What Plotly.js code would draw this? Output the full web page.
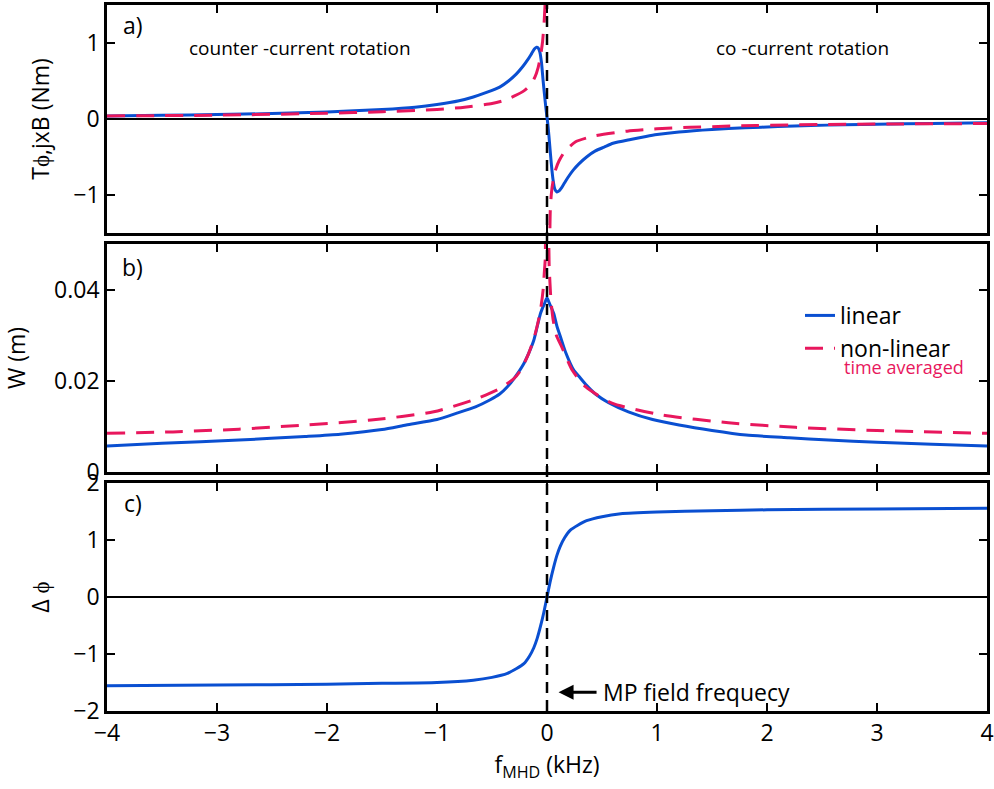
<!DOCTYPE html>
<html>
<head>
<meta charset="utf-8">
<script src="https://cdn.plot.ly/plotly-3.0.1.min.js"></script>
<style>html,body{margin:0;padding:0;background:#fff;}#plot{width:994px;height:789px;}</style>
</head>
<body>
<div id="plot"></div>
<script>
// ---- data ----
// panel a) torque, linear model
const xTorqueLin = [-4,-3.5,-3,-2.5,-2,-1.5,-1.2,-1,-0.8,-0.67,-0.55,-0.43,-0.35,-0.28,-0.22,-0.17,-0.14,-0.115,-0.095,-0.08,-0.065,-0.05,-0.035,-0.02,-0.005,0.01,0.025,0.04,0.055,0.07,0.09,0.11,0.135,0.16,0.19,0.24,0.29,0.36,0.44,0.52,0.6,0.76,0.9,1.0,1.2,1.5,1.8,2.1,2.4,2.7,3.0,3.5,4];
const yTorqueLin = [0.04,0.048,0.058,0.072,0.092,0.125,0.155,0.19,0.24,0.29,0.35,0.42,0.50,0.59,0.69,0.79,0.86,0.92,0.945,0.935,0.88,0.74,0.50,0.28,0.08,-0.10,-0.35,-0.60,-0.80,-0.92,-0.96,-0.945,-0.90,-0.84,-0.77,-0.67,-0.59,-0.50,-0.42,-0.37,-0.32,-0.27,-0.23,-0.205,-0.17,-0.137,-0.116,-0.10,-0.086,-0.076,-0.068,-0.058,-0.05];
// panel a) torque, non-linear (time averaged); null separates the two diverging branches
const xTorqueNon = [-4,-3,-2,-1.5,-1,-0.75,-0.5,-0.4,-0.3,-0.21,-0.15,-0.11,-0.08,-0.06,-0.04,-0.025,-0.015,-0.005,null,0.02,0.025,0.03,0.04,0.055,0.08,0.11,0.16,0.26,0.44,0.73,1.0,1.3,1.9,2.5,3.1,4];
const yTorqueNon = [0.04,0.05,0.075,0.095,0.125,0.155,0.205,0.24,0.30,0.37,0.45,0.55,0.68,0.82,1.02,1.3,1.6,2.2,null,-2.2,-1.6,-1.2,-0.98,-0.82,-0.66,-0.55,-0.43,-0.30,-0.22,-0.16,-0.13,-0.11,-0.085,-0.072,-0.066,-0.06];
// panel b) island width W (m)
const xWidthLin = [-4,-3.5,-2.8,-2.2,-1.88,-1.5,-1.28,-1.0,-0.82,-0.65,-0.52,-0.43,-0.36,-0.3,-0.21,-0.16,-0.12,-0.09,-0.06,-0.04,-0.02,0,0.02,0.04,0.062,0.09,0.123,0.17,0.244,0.29,0.36,0.44,0.56,0.74,0.96,1.2,1.5,1.81,2.2,2.56,3.0,3.5,4];
const yWidthLin = [0.0057,0.0063,0.0070,0.0078,0.0083,0.0093,0.0103,0.0115,0.0129,0.0143,0.0158,0.0171,0.0187,0.0205,0.0238,0.0264,0.0289,0.0318,0.0347,0.0360,0.0371,0.0382,0.0371,0.0360,0.0347,0.0320,0.0296,0.0262,0.0223,0.0210,0.0190,0.0171,0.0152,0.0132,0.0115,0.0103,0.0091,0.0081,0.0075,0.0070,0.0065,0.0061,0.0057];
const xWidthNon = [-4,-3.4,-2.8,-2.2,-1.6,-1.03,-0.67,-0.43,-0.3,-0.24,-0.17,-0.115,-0.08,-0.055,-0.035,-0.025,-0.015,-0.008,0.008,0.02,0.035,0.055,0.085,0.135,0.23,0.35,0.59,1.05,1.65,2.26,3.0,4];
const yWidthNon = [0.0085,0.0088,0.0094,0.0103,0.0114,0.0132,0.0158,0.0183,0.0205,0.0223,0.0258,0.0296,0.0330,0.0362,0.0400,0.0435,0.047,0.052,0.052,0.045,0.038,0.0335,0.0300,0.0274,0.0223,0.0187,0.0151,0.0125,0.0108,0.0098,0.0091,0.0085];
// panel c) phase difference
const xPhase = [-4,-3,-2,-1.5,-1,-0.67,-0.5,-0.36,-0.28,-0.21,-0.16,-0.12,-0.09,-0.06,-0.03,0,0.03,0.06,0.09,0.12,0.16,0.21,0.28,0.36,0.5,0.67,1,1.5,2,3,4];
const yPhase = [-1.556,-1.545,-1.53,-1.515,-1.50,-1.46,-1.41,-1.34,-1.26,-1.17,-1.04,-0.89,-0.73,-0.52,-0.28,0,0.28,0.52,0.73,0.89,1.04,1.17,1.26,1.34,1.41,1.46,1.49,1.515,1.53,1.545,1.556];

const xTicks = [-4,-3,-2,-1,0,1,2,3,4];
const torqueTicks = [-1,0,1];
const widthTicks = [0,0.02,0.04];
const widthTickText = ['0','0.02','0.04'];
const phaseTicks = [-2,-1,0,1,2];
const seriesNames = ['linear','non-linear'];

// ---- styling ----
const F = 'Open Sans';
const BLUE = '#0a4fd1';
const RED = '#e8175d';
const blueLine = {color: BLUE, width: 3, shape: 'spline', smoothing: 0.6};
const redLine = {color: RED, width: 3, dash: '18px,11px', shape: 'spline', smoothing: 0.6};

const traces = [
  {x: xTorqueLin, y: yTorqueLin, xaxis: 'x3', yaxis: 'y3', mode: 'lines', line: blueLine, showlegend: false, hoverinfo: 'skip'},
  {x: xTorqueNon, y: yTorqueNon, xaxis: 'x3', yaxis: 'y3', mode: 'lines', line: redLine, showlegend: false, connectgaps: false, hoverinfo: 'skip'},
  {x: xWidthLin, y: yWidthLin, xaxis: 'x2', yaxis: 'y2', mode: 'lines', line: blueLine, name: seriesNames[0], showlegend: true},
  {x: xWidthNon, y: yWidthNon, xaxis: 'x2', yaxis: 'y2', mode: 'lines', line: redLine, name: seriesNames[1], showlegend: true},
  {x: xPhase, y: yPhase, xaxis: 'x', yaxis: 'y', mode: 'lines', line: blueLine, showlegend: false}
];

const common = {
  showline: true, linecolor: 'black', linewidth: 2.8, mirror: 'ticks',
  ticks: 'inside', ticklen: 8, tickwidth: 2, tickcolor: 'black',
  showgrid: false, tickfont: {family: F, size: 23, color: 'black'}
};
const titleFont = {family: F, size: 23, color: 'black'};

const layout = {
  width: 994, height: 789,
  margin: {l: 107, r: 7, t: 5, b: 78},
  paper_bgcolor: 'white', plot_bgcolor: 'white',
  font: {family: F, color: 'black'},
  showlegend: true,
  legend: {x: 0.7875, y: 0.5907, xanchor: 'left', yanchor: 'top', bgcolor: 'rgba(0,0,0,0)',
           font: {family: F, size: 23, color: 'black'}},
  xaxis: Object.assign({}, common, {range: [-4, 4], tickvals: xTicks, anchor: 'y', zeroline: false,
          title: {text: 'f<sub>MHD</sub> (kHz)', font: titleFont, standoff: 6}}),
  xaxis2: Object.assign({}, common, {range: [-4, 4], tickvals: xTicks, matches: 'x', anchor: 'y2', zeroline: false, showticklabels: false}),
  xaxis3: Object.assign({}, common, {range: [-4, 4], tickvals: xTicks, matches: 'x', anchor: 'y3', zeroline: false, showticklabels: false}),
  yaxis: Object.assign({}, common, {domain: [0, 0.3229], range: [-2, 2], tickvals: phaseTicks, anchor: 'x',
          zeroline: true, zerolinecolor: 'black', zerolinewidth: 2,
          title: {text: 'Δ ϕ', font: titleFont}}),
  yaxis2: Object.assign({}, common, {domain: [0.3385, 0.6615], range: [0, 0.05], tickvals: widthTicks, ticktext: widthTickText, anchor: 'x2',
          zeroline: false, title: {text: 'W (m)', font: titleFont, standoff: 24}}),
  yaxis3: Object.assign({}, common, {domain: [0.6771, 1], range: [-1.5, 1.5], tickvals: torqueTicks, anchor: 'x3',
          zeroline: true, zerolinecolor: 'black', zerolinewidth: 2,
          title: {text: 'Tϕ,jxB (Nm)', font: titleFont}}),
  shapes: [
    {type: 'line', xref: 'x', yref: 'paper', x0: 0, x1: 0, y0: 0, y1: 1, layer: 'above',
     line: {color: 'black', width: 2.5, dash: '11px,7px'}}
  ],
  annotations: [
    {xref: 'paper', yref: 'paper', x: 0.0295, y: 0.9717, xanchor: 'center', yanchor: 'middle', text: 'a)', showarrow: false, font: {family: F, size: 23}},
    {xref: 'paper', yref: 'paper', x: 0.0295, y: 0.6289, xanchor: 'center', yanchor: 'middle', text: 'b)', showarrow: false, font: {family: F, size: 23}},
    {xref: 'paper', yref: 'paper', x: 0.0295, y: 0.2946, xanchor: 'center', yanchor: 'middle', text: 'c)', showarrow: false, font: {family: F, size: 23}},
    {xref: 'paper', yref: 'paper', x: 0.2193, y: 0.9391, xanchor: 'center', yanchor: 'middle', text: 'counter -current rotation', showarrow: false, font: {family: F, size: 19}},
    {xref: 'paper', yref: 'paper', x: 0.7898, y: 0.9391, xanchor: 'center', yanchor: 'middle', text: 'co -current rotation', showarrow: false, font: {family: F, size: 19}},
    {xref: 'paper', yref: 'paper', x: 0.835, y: 0.4873, xanchor: 'left', yanchor: 'middle', text: 'time averaged', showarrow: false, font: {family: F, size: 18, color: RED}},
    {xref: 'x', yref: 'y', x: 0.105, y: -1.67, ax: 138, ay: 0, text: 'MP field frequecy', showarrow: true,
     arrowhead: 2, arrowsize: 1, arrowwidth: 3, arrowcolor: 'black', borderpad: 6, font: {family: F, size: 23}}
  ]
};

Plotly.newPlot('plot', traces, layout, {staticPlot: true, displayModeBar: false});
</script>
</body>
</html>
